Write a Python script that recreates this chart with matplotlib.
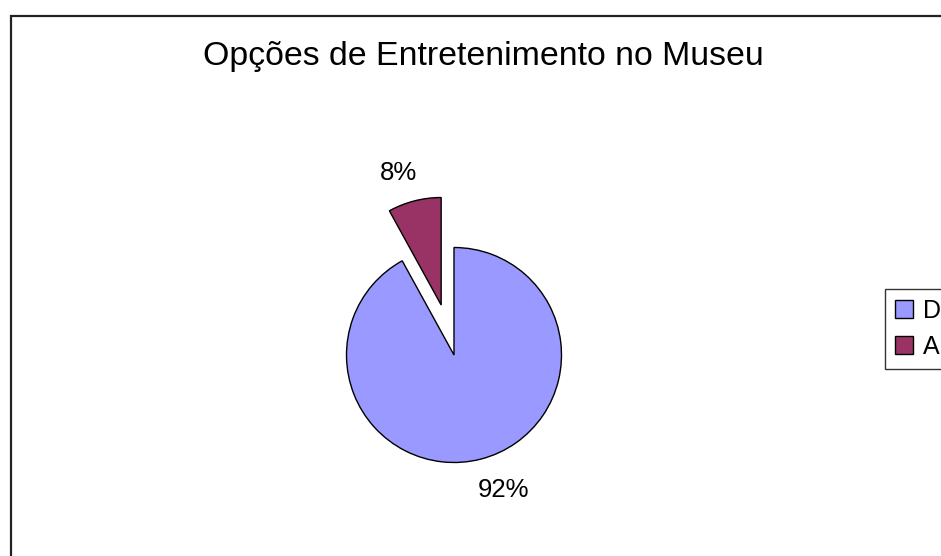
import matplotlib
matplotlib.use("Agg")
import matplotlib.pyplot as plt
from matplotlib.patches import Rectangle, Patch

plt.rcParams['font.family'] = ['Liberation Sans', 'DejaVu Sans']

title = "Opções de Entretenimento no Museu"
categories = ["D", "A"]
values = [92, 8]
colors = ["#9999FF", "#993366"]
explode = [0, 0.48]

W, H = 941, 556
fig = plt.figure(figsize=(W / 100, H / 100), dpi=100)

# chart area border (cut off at right/bottom)
fig.patches.append(Rectangle((10.5 / W, -0.1), 2.0, (H - 15.5) / H + 0.1,
                             transform=fig.transFigure, fill=False,
                             edgecolor="#222222", lw=1.6, zorder=0))

fig.text(483 / W, 1 - 56 / H, title, ha="center", va="center", fontsize=24.4)

cx, cy, r = 454, 355, 107.5
ax = fig.add_axes([(cx - r) / W, (H - cy - r) / H, 2 * r / W, 2 * r / H])
wedges, texts = ax.pie(values, colors=colors, explode=explode, startangle=90,
                       counterclock=False,
                       labels=[f"{v}%" for v in values], labeldistance=1.3,
                       wedgeprops=dict(edgecolor="black", linewidth=1.0),
                       textprops=dict(fontsize=18.5))
ax.set_xlim(-1, 1)
ax.set_ylim(-1, 1)
for w in wedges:
    w.set_clip_on(False)
label_shift = [(0.14, 0.0), (-0.07, -0.03)]
for t, (dx, dy) in zip(texts, label_shift):
    t.set_ha("center")
    t.set_va("center")
    x, y = t.get_position()
    t.set_position((x + dx, y + dy))

handles = [Patch(facecolor=c, edgecolor="black", lw=1.0) for c in colors]
leg = fig.legend(handles, categories, loc="upper left",
                 bbox_to_anchor=(885 / W, 1 - 289 / H), frameon=True,
                 fancybox=False, fontsize=18, handlelength=0.72, handleheight=0.72,
                 handletextpad=0.4, borderpad=0.4, labelspacing=0.48,
                 borderaxespad=0)
leg.get_frame().set_edgecolor("black")
leg.get_frame().set_linewidth(1.0)

fig.savefig("out.png", dpi=100)
